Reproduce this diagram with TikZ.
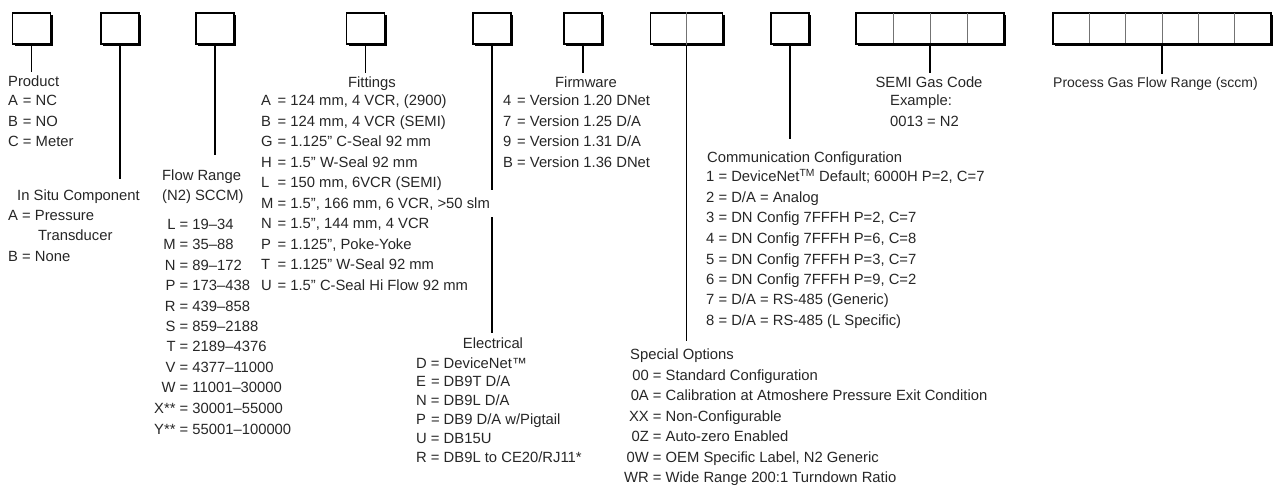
\documentclass[tikz,border=0pt]{standalone}
\usepackage{fontspec}
\setmainfont{Liberation Sans}
\usetikzlibrary{shadows}
\tikzset{
  codebox/.style={draw=black, line width=1.8pt, fill=white, minimum height=31pt, minimum width=38pt, inner sep=0pt,
    drop shadow={shadow xshift=2.2pt, shadow yshift=-2.2pt, fill=black, opacity=1}},
  divider/.style={draw=black!55, line width=0.9pt},
  stem/.style={draw=black, line width=1.6pt},
  title/.style={text=black!85, font=\fontsize{14.8}{20.5}\selectfont, inner sep=4pt, anchor=base},
  list/.style={text=black!85, font=\fontsize{14.8}{20.5}\selectfont, inner sep=0pt, anchor=base west},
}
\begin{document}
\begin{tikzpicture}[x=1pt,y=-1pt]
\useasboundingbox (0,0) rectangle (1277,492);

\node[codebox] (b1) at (31.5,28.3) {};
\node[codebox] (b2) at (120,28.3) {};
\node[codebox] (b3) at (215,28.3) {};
\node[codebox] (b4) at (365.5,28.3) {};
\node[codebox] (b5) at (492,28.3) {};
\node[codebox] (b6) at (583,28.3) {};
\node[codebox, minimum width=72pt] (b7) at (686.5,28.3) {};
\node[codebox] (b8) at (790,28.3) {};
\node[codebox, minimum width=148pt] (b9) at (930,28.3) {};
\node[codebox, minimum width=218pt] (b10) at (1162,28.3) {};
\draw[divider] (b7.north) -- (b7.south);
\foreach \x in {893,930,967} \draw[divider] (\x,13.3) -- (\x,43.3);
\foreach \x in {1089.3,1125.7,1162,1198.3,1234.7} \draw[divider] (\x,13.3) -- (\x,43.3);

\node[title, anchor=base west] (prod) at (4,87) {Product};
\node[list] (prodlist) at (8,106) {\begin{tabular}[t]{@{}l@{ = }l@{}}
A & NC\\ B & NO\\ C & Meter\end{tabular}};

\node[title, anchor=base west] (situ) at (13,200) {In Situ Component};
\node[list] (situlist) at (8,220) {\begin{tabular}[t]{@{}r@{ = }l@{}}
A & Pressure\\ \multicolumn{2}{@{}l@{}}{\hspace{30pt}Transducer}\\ B & None\end{tabular}};

\node[title, anchor=base west] (flow) at (158,180) {\begin{tabular}[t]{@{}l@{}}Flow Range\\(N2) SCCM)\end{tabular}};
\node[list] (flowlist) at (154,229) {\begin{tabular}[t]{@{}r@{ = }l@{}}
L & 19--34\\ M & 35--88\\ N & 89--172\\ P & 173--438\\ R & 439--858\\ S & 859--2188\\
T & 2189--4376\\ V & 4377--11000\\ W & 11001--30000\\ X** & 30001--55000\\ Y** & 55001--100000\end{tabular}};

\node[title] (fit) at (372,88) {Fittings};
\node[list] (fitlist) at (261,106) {\begin{tabular}[t]{@{}l@{ = }l@{}}
A & 124 mm, 4 VCR, (2900)\\ B & 124 mm, 4 VCR (SEMI)\\ G & 1.125" C-Seal 92 mm\\
H & 1.5" W-Seal 92 mm\\ L & 150 mm, 6VCR (SEMI)\\ M & 1.5", 166 mm, 6 VCR, >50 slm\\
N & 1.5", 144 mm, 4 VCR\\ P & 1.125", Poke-Yoke\\ T & 1.125" W-Seal 92 mm\\
U & 1.5" C-Seal Hi Flow 92 mm\end{tabular}};

\node[title] (elec) at (493,348) {Electrical};
\node[list, font=\fontsize{14.8}{18.8}\selectfont] (eleclist) at (416,368) {\begin{tabular}[t]{@{}l@{ = }l@{}}
D & DeviceNet™\\ E & DB9T D/A\\ N & DB9L D/A\\ P & DB9 D/A w/Pigtail\\ U & DB15U\\
R & DB9L to CE20/RJ11*\end{tabular}};

\node[title] (firm) at (586,88) {Firmware};
\node[list] (firmlist) at (503,106) {\begin{tabular}[t]{@{}l@{ = }l@{}}
4 & Version 1.20 DNet\\ 7 & Version 1.25 D/A\\ 9 & Version 1.31 D/A\\ B & Version 1.36 DNet\end{tabular}};

\node[title, anchor=base west] (spec) at (626,359) {Special Options};
\node[list] (speclist) at (624,380) {\begin{tabular}[t]{@{}r@{ = }l@{}}
00 & Standard Configuration\\ 0A & Calibration at Atmoshere Pressure Exit Condition\\
XX & Non-Configurable\\ 0Z & Auto-zero Enabled\\ 0W & OEM Specific Label, N2 Generic\\
WR & Wide Range 200:1 Turndown Ratio\end{tabular}};

\node[title, anchor=base west] (comm) at (703,162) {Communication Configuration};
\node[list] (commlist) at (706,182) {\begin{tabular}[t]{@{}l@{ = }l@{}}
1 & DeviceNet\textsuperscript{TM} Default; 6000H P=2, C=7\\ 2 & D/A = Analog\\
3 & DN Config 7FFFH P=2, C=7\\ 4 & DN Config 7FFFH P=6, C=8\\ 5 & DN Config 7FFFH P=3, C=7\\
6 & DN Config 7FFFH P=9, C=2\\ 7 & D/A = RS-485 (Generic)\\ 8 & D/A = RS-485 (L Specific)\end{tabular}};

\node[title] (semi) at (929,88) {SEMI Gas Code};
\node[list] (semilist) at (890,106) {\begin{tabular}[t]{@{}l@{}}Example:\\0013 = N2\end{tabular}};

\node[title, anchor=base west, font=\fontsize{14}{20.5}\selectfont] (proc) at (1049,88) {Process Gas Flow Range (sccm)};

\coordinate (gaptop) at (492,190);
\coordinate (gapbot) at (492,217);

\draw[stem] (b1) -- (b1 |- prod.north);
\draw[stem, shorten >=6pt] (b2) -- (b2 |- situ.north);
\draw[stem, shorten >=6.6pt] (b3) -- (b3 |- flow.north);
\draw[stem] (b4) -- (b4 |- fit.north);
\draw[stem] (b5) -- (gaptop) (gapbot) -- (b5 |- elec.north);
\draw[stem] (b6) -- (b6 |- firm.north);
\draw[stem, shorten >=3pt] (b7) -- (b7 |- spec.north);
\draw[stem, shorten >=8pt] (b8) -- (b8 |- comm.north);
\draw[stem] (b9) -- (b9 |- semi.north);
\draw[stem] (b10) -- (b10 |- proc.north);
\end{tikzpicture}
\end{document}
